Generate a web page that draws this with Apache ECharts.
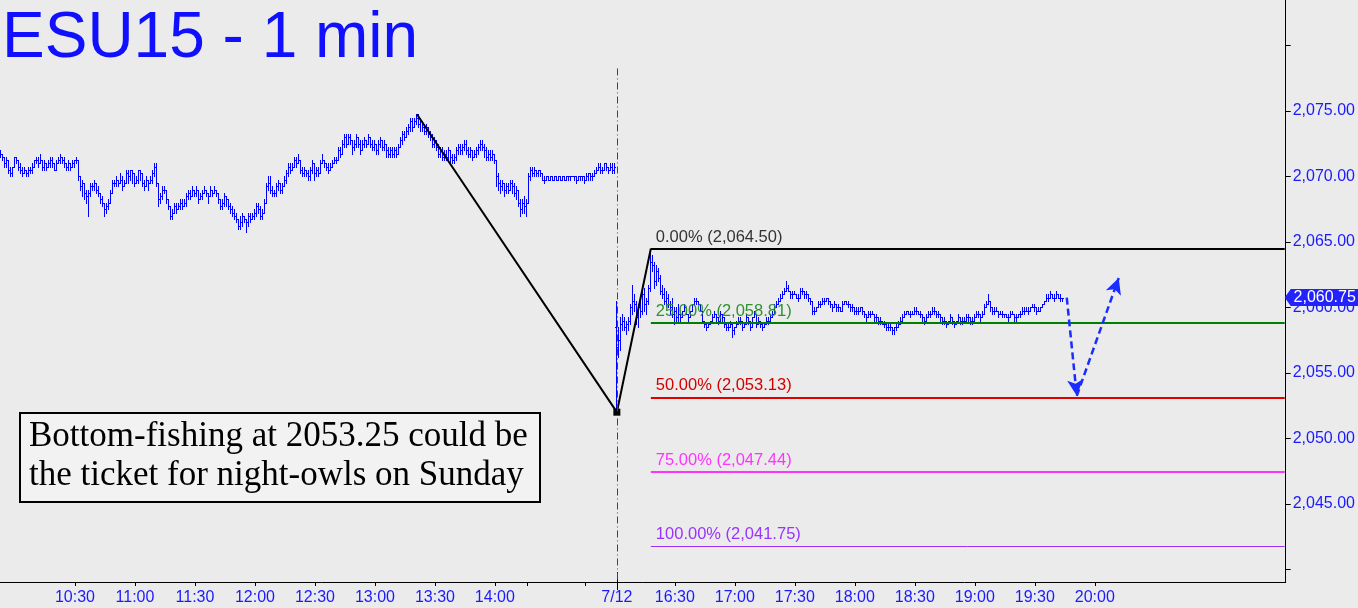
<!DOCTYPE html>
<html><head><meta charset="utf-8">
<script src="https://cdn.jsdelivr.net/npm/echarts@6/dist/echarts.min.js"></script>
<style>html,body{margin:0;padding:0;background:#ebebeb;}#c{width:1358px;height:608px;}</style>
</head><body><div id="c"></div>
<script>
// ---------- data ----------
const fridayHigh = [2072.0,2071.75,2071.5,2071.5,2071.25,2070.75,2070.75,2071.5,2071.5,2071.25,
2071.0,2070.75,2070.75,2070.5,2070.75,2070.75,2071.0,2071.25,2071.5,2071.5,
2071.75,2071.25,2071.25,2071.0,2071.25,2071.5,2071.5,2071.0,2071.25,2071.5,
2071.75,2071.5,2071.5,2071.0,2071.25,2071.0,2071.25,2071.25,2071.5,2071.25,
2070.0,2069.75,2069.5,2069.0,2069.0,2069.5,2069.5,2069.75,2069.5,2069.25,
2068.75,2068.5,2068.0,2068.0,2068.25,2069.0,2069.75,2069.75,2070.0,2069.75,
2070.25,2070.0,2069.75,2070.5,2070.5,2070.5,2070.5,2070.25,2070.0,2070.5,
2070.5,2070.25,2069.75,2070.0,2069.75,2070.0,2070.5,2071.0,2071.0,2069.5,
2068.75,2069.25,2069.25,2069.0,2068.25,2067.75,2067.5,2068.0,2068.0,2068.0,
2068.25,2068.25,2068.25,2068.75,2069.0,2069.0,2069.25,2069.0,2069.25,2069.0,
2068.75,2069.0,2069.25,2069.0,2068.75,2069.25,2069.0,2069.25,2069.0,2068.75,
2068.25,2068.25,2068.75,2068.5,2068.25,2068.0,2067.75,2067.5,2067.25,2066.75,
2067.0,2067.25,2067.0,2066.75,2067.25,2067.25,2067.25,2067.5,2068.0,2068.0,
2067.75,2067.5,2068.25,2069.5,2070.0,2070.0,2069.25,2069.0,2069.5,2069.75,
2069.5,2069.5,2070.0,2070.5,2071.0,2071.0,2071.0,2071.5,2071.5,2071.75,
2071.25,2070.75,2070.75,2070.5,2070.5,2070.75,2071.25,2071.0,2070.75,2070.75,
2071.25,2071.75,2071.25,2071.0,2071.0,2071.0,2071.25,2071.5,2071.5,2072.25,
2072.25,2072.75,2073.25,2073.25,2073.25,2073.25,2072.75,2072.75,2073.25,2073.0,
2072.75,2072.75,2073.0,2072.75,2073.25,2073.0,2072.75,2072.75,2072.5,2072.75,
2073.0,2072.75,2072.75,2072.5,2072.25,2072.25,2072.25,2072.25,2072.25,2072.5,
2073.0,2073.5,2073.5,2073.75,2074.0,2074.5,2074.5,2074.5,2074.75,2074.75,
2074.5,2074.25,2074.0,2074.0,2073.75,2073.5,2073.25,2073.0,2072.75,2072.5,
2072.25,2072.25,2072.0,2072.0,2072.25,2072.0,2071.75,2071.75,2072.25,2072.5,
2072.5,2072.5,2072.75,2072.75,2072.25,2072.25,2072.0,2072.0,2072.25,2072.5,
2072.75,2072.75,2072.5,2072.25,2072.0,2072.0,2072.0,2071.75,2071.25,2070.25,
2069.75,2069.75,2069.5,2069.5,2069.5,2069.75,2069.75,2069.5,2069.25,2069.0,
2068.25,2068.25,2068.5,2068.25,2070.25,2070.75,2070.75,2070.75,2070.5,2070.5,
2070.5,2070.25,2070.0,2070.0,2070.0,2070.0,2070.0,2070.0,2070.0,2070.0,
2070.0,2070.0,2070.0,2070.0,2070.0,2070.0,2070.0,2070.0,2070.0,2070.0,
2070.0,2070.0,2070.0,2070.25,2070.25,2070.25,2070.25,2070.5,2070.75,2071.0,
2071.0,2070.75,2071.0,2071.0,2070.75,2071.0,2071.0,2071.0];
const fridayLow = [2071.5,2071.25,2070.75,2070.75,2070.25,2070.0,2070.0,2070.75,2071.0,2070.5,
2070.25,2070.0,2070.25,2070.0,2070.0,2070.25,2070.25,2070.75,2071.0,2070.75,
2071.0,2070.5,2070.5,2070.5,2070.75,2070.75,2070.75,2070.5,2070.5,2071.0,
2071.0,2071.0,2070.75,2070.5,2070.5,2070.5,2070.75,2070.75,2071.0,2069.75,
2069.0,2068.5,2068.25,2068.0,2067.0,2068.5,2069.0,2069.0,2068.75,2068.5,
2068.0,2067.75,2067.0,2067.25,2067.5,2068.0,2068.75,2069.25,2069.25,2069.25,
2069.5,2069.0,2069.25,2069.5,2069.5,2069.75,2069.5,2069.25,2069.5,2069.5,
2069.75,2069.25,2069.0,2069.25,2069.0,2069.5,2069.5,2070.0,2069.25,2067.75,
2068.0,2068.25,2068.75,2068.0,2067.5,2066.75,2066.75,2067.25,2067.25,2067.5,
2067.5,2067.5,2067.75,2067.75,2068.25,2068.25,2068.5,2068.5,2068.5,2068.0,
2068.25,2068.25,2068.75,2068.5,2068.0,2068.5,2068.5,2068.75,2068.5,2068.0,
2067.5,2067.5,2067.75,2067.75,2067.5,2067.25,2067.0,2066.75,2066.5,2066.0,
2066.0,2066.25,2066.5,2065.75,2066.25,2066.5,2066.75,2066.75,2067.0,2067.25,
2066.75,2066.75,2067.25,2068.0,2069.0,2068.75,2068.5,2068.5,2068.5,2069.0,
2068.75,2068.75,2069.25,2069.5,2070.0,2070.25,2070.5,2070.75,2070.75,2071.0,
2070.25,2070.0,2070.0,2070.0,2069.75,2069.75,2070.25,2069.75,2070.0,2070.0,
2070.25,2071.0,2070.75,2070.5,2070.25,2070.5,2070.75,2071.0,2071.0,2071.25,
2071.5,2071.75,2072.25,2072.25,2072.5,2072.5,2071.75,2072.0,2072.25,2072.25,
2071.75,2072.0,2072.25,2072.25,2072.5,2072.25,2072.0,2072.0,2071.75,2071.75,
2072.25,2072.0,2072.0,2071.5,2071.5,2071.5,2071.5,2071.5,2071.5,2071.75,
2072.25,2072.5,2072.75,2073.0,2073.25,2073.5,2073.5,2073.75,2074.0,2073.75,
2073.5,2073.5,2073.25,2073.25,2073.0,2072.75,2072.25,2072.25,2072.0,2071.5,
2071.5,2071.25,2071.25,2071.25,2071.25,2071.0,2071.0,2071.0,2071.25,2071.75,
2071.75,2071.75,2072.0,2071.75,2071.5,2071.5,2071.25,2071.5,2071.5,2071.75,
2072.0,2072.0,2071.5,2071.25,2071.25,2071.25,2071.25,2071.0,2069.25,2069.0,
2068.75,2069.0,2068.5,2068.75,2068.75,2069.0,2068.75,2068.5,2068.25,2067.75,
2067.0,2067.25,2067.25,2067.0,2068.0,2069.75,2070.0,2070.0,2070.0,2070.0,
2070.0,2069.75,2069.5,2069.75,2069.75,2069.75,2069.75,2069.75,2069.75,2069.75,
2069.75,2069.75,2069.75,2069.75,2069.75,2069.75,2070.0,2069.75,2069.5,2069.75,
2069.75,2069.75,2069.5,2069.75,2069.75,2069.75,2069.75,2070.0,2070.25,2070.5,
2070.25,2070.25,2070.5,2070.5,2070.25,2070.5,2070.25,2070.25];
const fridayClose = [2071.75,2071.5,2071.0,2071.25,2070.5,2070.25,2070.75,2071.5,2071.25,2070.75,
2070.5,2070.25,2070.5,2070.25,2070.5,2070.5,2070.75,2071.25,2071.25,2071.0,
2071.25,2070.75,2071.0,2070.75,2071.0,2071.25,2071.0,2070.5,2071.0,2071.25,
2071.5,2071.25,2071.0,2070.75,2071.0,2070.75,2071.0,2071.25,2071.25,2070.0,
2069.25,2069.5,2068.75,2068.5,2068.75,2069.25,2069.25,2069.5,2069.0,2068.75,
2068.25,2068.0,2067.5,2067.75,2068.0,2068.75,2069.5,2069.5,2069.75,2069.5,
2069.75,2069.25,2069.5,2070.25,2070.0,2070.5,2070.25,2069.5,2069.75,2070.5,
2070.25,2069.5,2069.25,2069.75,2069.5,2069.75,2070.25,2070.75,2069.5,2068.25,
2068.5,2069.0,2069.0,2068.25,2067.75,2067.0,2067.25,2067.75,2067.5,2067.75,
2068.0,2067.75,2068.0,2068.5,2068.75,2068.5,2069.0,2068.75,2069.0,2068.25,
2068.5,2068.75,2069.0,2068.75,2068.5,2069.0,2068.75,2069.0,2068.75,2068.25,
2067.75,2068.0,2068.5,2068.25,2067.75,2067.5,2067.25,2067.0,2066.75,2066.25,
2066.5,2067.0,2066.75,2066.5,2067.0,2066.75,2067.0,2067.25,2067.75,2067.5,
2067.0,2067.25,2068.0,2069.25,2069.5,2069.0,2068.75,2068.75,2069.25,2069.5,
2069.0,2069.25,2069.75,2070.25,2070.75,2070.5,2070.75,2071.25,2071.0,2071.25,
2070.5,2070.25,2070.5,2070.25,2070.0,2070.5,2071.0,2070.25,2070.5,2070.25,
2071.0,2071.25,2071.0,2070.75,2070.5,2070.75,2071.0,2071.25,2071.25,2072.0,
2071.75,2072.5,2073.0,2072.5,2073.0,2072.75,2072.25,2072.5,2073.0,2072.5,
2072.0,2072.5,2072.75,2072.5,2073.0,2072.5,2072.25,2072.5,2072.0,2072.5,
2072.75,2072.25,2072.5,2072.0,2071.75,2072.0,2071.75,2072.0,2071.75,2072.25,
2072.75,2073.25,2073.0,2073.5,2073.75,2074.25,2073.75,2074.25,2074.5,2074.0,
2074.25,2073.75,2073.5,2073.75,2073.25,2073.0,2072.5,2072.75,2072.25,2071.75,
2072.0,2071.5,2071.75,2071.5,2072.0,2071.5,2071.25,2071.5,2072.0,2072.25,
2072.0,2072.25,2072.5,2072.0,2071.75,2072.0,2071.5,2071.75,2072.0,2072.25,
2072.5,2072.25,2072.0,2071.5,2071.75,2071.5,2071.75,2071.25,2070.0,2069.5,
2069.25,2069.5,2069.0,2069.25,2069.0,2069.5,2069.25,2068.75,2069.0,2068.0,
2067.5,2068.0,2067.75,2068.0,2070.0,2070.5,2070.25,2070.5,2070.25,2070.5,
2070.25,2069.75,2069.75,2070.0,2069.75,2070.0,2069.75,2070.0,2069.75,2070.0,
2069.75,2070.0,2069.75,2070.0,2070.0,2070.0,2070.0,2070.0,2069.75,2070.0,
2070.0,2070.0,2069.75,2070.0,2070.25,2070.0,2070.0,2070.25,2070.5,2070.75,
2070.5,2070.5,2071.0,2070.75,2070.5,2070.75,2070.5,2070.75];

const sundayHigh = [2060.5,2058.5,2059.25,2059.5,2059.25,2059.0,2059.25,2060.25,2061.75,2061.0,
2060.5,2060.25,2060.5,2061.75,2061.5,2060.75,2061.75,2064.5,2064.0,2063.5,
2063.25,2063.0,2062.5,2061.75,2061.5,2061.25,2061.0,2060.5,2060.75,2060.0,
2060.0,2060.25,2059.5,2059.75,2060.25,2060.0,2059.5,2059.75,2060.25,2060.75,
2060.75,2060.5,2060.25,2059.75,2059.0,2058.75,2058.75,2059.0,2059.5,2059.75,
2059.5,2059.25,2059.75,2059.5,2059.25,2058.75,2058.75,2059.0,2058.75,2058.5,
2059.0,2059.25,2059.25,2059.0,2058.75,2059.5,2059.25,2059.0,2059.25,2059.75,
2059.5,2059.25,2059.0,2058.75,2058.75,2059.25,2059.25,2059.5,2059.75,2060.25,
2060.5,2060.75,2061.0,2061.25,2061.5,2062.0,2061.75,2061.25,2061.25,2061.25,
2061.0,2061.0,2061.5,2061.5,2061.25,2061.25,2061.0,2060.75,2060.5,2060.0,
2060.0,2060.5,2060.5,2060.75,2060.75,2060.75,2060.75,2060.5,2060.25,2060.5,
2060.25,2060.25,2060.0,2060.5,2060.5,2060.5,2060.5,2060.25,2060.25,2060.0,
2060.0,2060.0,2060.0,2060.0,2059.75,2059.5,2059.75,2059.75,2059.75,2059.5,
2059.5,2059.25,2059.25,2059.0,2059.0,2058.75,2058.75,2058.75,2058.5,2058.5,
2058.75,2059.0,2059.25,2059.5,2059.75,2059.75,2059.75,2059.75,2059.75,2060.0,
2060.0,2059.75,2059.75,2059.5,2059.25,2059.5,2059.75,2059.75,2060.0,2060.0,
2059.75,2059.75,2059.5,2059.25,2059.25,2059.0,2059.0,2059.5,2059.25,2059.0,
2059.0,2059.5,2059.25,2059.25,2059.25,2059.5,2059.5,2059.25,2059.25,2059.5,
2059.75,2059.75,2059.5,2059.75,2060.25,2060.5,2061.0,2060.5,2060.0,2060.0,
2060.0,2059.75,2059.75,2059.75,2059.5,2059.5,2059.5,2059.75,2059.75,2059.5,
2059.5,2059.5,2059.75,2060.0,2060.0,2060.0,2060.0,2060.0,2060.25,2060.25,
2060.0,2060.0,2060.0,2060.25,2060.5,2061.0,2061.0,2061.25,2061.0,2061.0,
2061.25,2061.0,2061.0,2060.75];
const sundayLow = [2052.0,2056.25,2056.75,2058.25,2058.25,2058.0,2058.25,2058.75,2059.5,2059.75,
2058.75,2058.5,2059.25,2059.5,2059.75,2059.5,2060.25,2061.25,2062.75,2061.5,
2061.75,2062.0,2061.0,2060.75,2060.25,2060.0,2060.0,2059.5,2059.25,2058.75,
2059.0,2059.0,2059.0,2059.25,2059.75,2059.5,2059.0,2059.25,2059.75,2060.25,
2060.25,2060.25,2059.75,2059.0,2058.5,2058.25,2058.5,2058.75,2059.0,2059.25,
2059.0,2058.75,2059.0,2059.0,2058.5,2058.25,2058.25,2058.5,2057.75,2058.0,
2058.5,2058.75,2058.75,2058.25,2058.5,2058.75,2058.75,2058.25,2058.5,2059.25,
2058.5,2058.75,2058.5,2058.25,2058.5,2058.75,2058.75,2059.0,2059.25,2059.5,
2060.0,2060.25,2060.5,2060.75,2061.0,2061.25,2061.25,2060.75,2060.75,2061.0,
2060.75,2060.5,2060.75,2061.0,2060.75,2060.75,2060.5,2060.25,2059.5,2059.5,
2059.75,2060.0,2060.0,2060.25,2060.25,2060.5,2060.25,2060.0,2059.75,2060.0,
2059.75,2059.75,2059.75,2059.75,2060.25,2060.25,2060.0,2059.75,2059.75,2059.5,
2059.5,2059.5,2059.75,2059.5,2059.25,2059.0,2059.25,2059.25,2059.5,2059.0,
2059.0,2058.75,2058.75,2058.75,2058.5,2058.25,2058.25,2058.25,2058.0,2058.0,
2058.25,2058.5,2058.75,2059.0,2059.25,2059.5,2059.5,2059.25,2059.5,2059.5,
2059.5,2059.5,2059.25,2059.0,2058.75,2059.0,2059.25,2059.25,2059.5,2059.5,
2059.25,2059.25,2059.0,2058.75,2058.75,2058.5,2058.75,2059.0,2058.75,2058.5,
2058.75,2059.0,2058.75,2058.75,2059.0,2059.0,2059.0,2058.75,2058.75,2059.0,
2059.25,2059.25,2059.0,2059.25,2059.5,2060.0,2060.25,2059.75,2059.5,2059.5,
2059.75,2059.25,2059.5,2059.25,2059.25,2059.25,2059.0,2059.25,2059.5,2059.0,
2059.0,2059.25,2059.25,2059.5,2059.5,2059.75,2059.5,2059.75,2060.0,2059.75,
2059.5,2059.75,2059.75,2060.0,2060.25,2060.5,2060.5,2060.75,2060.75,2060.5,
2060.75,2060.75,2060.5,2060.5];
const sundayClose = [2057.0,2057.5,2058.75,2059.0,2058.5,2058.75,2059.0,2060.0,2060.5,2060.25,
2059.25,2060.0,2059.75,2061.0,2060.25,2060.5,2061.5,2063.5,2063.25,2062.0,
2062.75,2062.25,2061.25,2061.0,2060.5,2060.75,2060.25,2060.0,2059.5,2059.75,
2059.25,2059.5,2059.25,2059.75,2060.0,2059.5,2059.25,2059.75,2060.25,2060.5,
2060.5,2060.25,2059.75,2059.0,2058.75,2058.5,2058.75,2059.0,2059.25,2059.5,
2059.25,2059.0,2059.5,2059.25,2058.75,2058.5,2058.5,2058.75,2058.25,2058.5,
2058.75,2059.0,2059.0,2058.5,2058.75,2059.25,2059.0,2058.5,2059.25,2059.5,
2058.75,2059.0,2058.75,2058.5,2058.75,2059.0,2059.0,2059.25,2059.5,2060.0,
2060.25,2060.5,2060.75,2061.0,2061.25,2061.5,2061.25,2061.0,2061.0,2061.0,
2060.75,2060.75,2061.25,2061.25,2061.0,2061.0,2060.75,2060.5,2059.75,2059.75,
2060.0,2060.25,2060.25,2060.5,2060.5,2060.75,2060.5,2060.25,2060.0,2060.25,
2060.0,2060.0,2059.75,2060.25,2060.5,2060.25,2060.25,2060.0,2060.0,2059.75,
2059.75,2059.75,2060.0,2059.75,2059.5,2059.25,2059.5,2059.5,2059.5,2059.25,
2059.25,2059.0,2059.0,2058.75,2058.75,2058.5,2058.5,2058.5,2058.25,2058.5,
2058.5,2058.75,2059.0,2059.25,2059.5,2059.75,2059.5,2059.5,2059.5,2059.75,
2059.75,2059.5,2059.5,2059.25,2059.0,2059.25,2059.5,2059.5,2059.75,2059.75,
2059.5,2059.5,2059.25,2059.0,2059.0,2058.75,2059.0,2059.25,2059.0,2058.75,
2059.0,2059.25,2059.0,2059.0,2059.0,2059.25,2059.25,2059.0,2059.0,2059.25,
2059.5,2059.5,2059.25,2059.5,2060.0,2060.25,2060.5,2060.0,2059.75,2059.75,
2059.75,2059.5,2059.5,2059.5,2059.5,2059.25,2059.25,2059.5,2059.5,2059.25,
2059.25,2059.5,2059.5,2059.75,2059.75,2059.75,2059.75,2060.0,2060.0,2060.0,
2059.75,2059.75,2060.0,2060.25,2060.5,2060.75,2060.75,2061.0,2060.75,2060.75,
2061.0,2060.75,2060.75,2060.75];
const sessionOpen = [2071.75, 2058.5];

// time axis labels (bar index -> label)
const xTickIndex = [37,67,97,127,157,187,217,247,263,292,308,337,367,397,427,457,487,517,547];
const xTickLabel = ['10:30','11:00','11:30','12:00','12:30','13:00','13:30','14:00','','','7/12','16:30','17:00','17:30','18:00','18:30','19:00','19:30','20:00'];
const barSlots = 643;

// price axis
const yLabelValues = [2045,2050,2055,2060,2065,2070,2075];
const yTickValues = [2040,2045,2050,2055,2060,2065,2070,2075,2080];

// Fibonacci projection
const fibPct = ['0.00%','25.00%','50.00%','75.00%','100.00%'];
const fibValues = [2064.50,2058.81,2053.13,2047.44,2041.75];
// zig-zag swing points [barIndex, price]
const swingPoints = [[208,2074.75],[308,2052.00],[325,2064.50]];
// projected path [barIndex, price]
const projection = [[533,2060.75],[538,2053.25],[559,2062.25]];
const lastPrice = 2060.75;

// ---------- build ----------
const sundayStart = fridayHigh.length;
const highs = fridayHigh.concat(sundayHigh);
const lows = fridayLow.concat(sundayLow);
const closes = fridayClose.concat(sundayClose);
const ohlc = closes.map((c, i) => {
  const o = i === 0 ? sessionOpen[0] : (i === sundayStart ? sessionOpen[1] : closes[i - 1]);
  return [i, o, highs[i], lows[i], c];
});
const categories = [];
for (let i = 0; i < barSlots; i++) categories.push(String(i));
const labelMap = new Map();
xTickIndex.forEach((ix, k) => labelMap.set(ix, xTickLabel[k]));
const labelSet = new Set(xTickIndex.filter((ix, k) => xTickLabel[k] !== ''));
const tickSet = new Set(xTickIndex);

const fmt = v => v.toLocaleString('en-US', {minimumFractionDigits: 2, maximumFractionDigits: 2});
const BLUE = '#0000ff';
const SANS = '"Liberation Sans", Arial, sans-serif';
const fibColors = ['#000000', '#008000', '#e00000', '#ff33ff', '#a030f0'];
const fibTextColors = ['#333333', '#2f922f', '#d40000', '#ff33ff', '#9933ff'];
const fibWidths = [2, 2, 2, 2, 1];

function renderBar(params, api) {
  const i = api.value(0), o = api.value(1), h = api.value(2), l = api.value(3), c = api.value(4);
  const pH = api.coord([i, h]), pL = api.coord([i, l]), pO = api.coord([i, o]), pC = api.coord([i, c]);
  const x = Math.floor(pH[0]);
  const yTop = Math.round(Math.min(pH[1], pO[1], pC[1]));
  const yBot = Math.round(Math.max(pL[1], pO[1], pC[1]));
  const st = {fill: BLUE};
  return {type: 'group', children: [
    {type: 'rect', shape: {x: x, y: yTop, width: 1, height: Math.max(1, yBot - yTop + 1)}, style: st},
    {type: 'rect', shape: {x: x - 1, y: Math.round(pO[1]), width: 1, height: 1}, style: st},
    {type: 'rect', shape: {x: x + 1, y: Math.round(pC[1]), width: 1, height: 1}, style: st}
  ]};
}

const chart = echarts.init(document.getElementById('c'), null, {renderer: 'canvas'});
const yMin = 2039.03, yMax = 2083.48;
chart.setOption({
  animation: false,
  backgroundColor: '#ebebeb',
  grid: {left: 0, right: 72, top: 0, bottom: 26, containLabel: false},
  xAxis: [{
    type: 'category', data: categories, boundaryGap: true,
    axisLine: {show: true, lineStyle: {color: '#000', width: 1}},
    axisTick: {show: true, alignWithLabel: true, length: 4, interval: (idx) => tickSet.has(idx), lineStyle: {color: '#000'}},
    axisLabel: {show: true, interval: (idx) => labelSet.has(idx), formatter: (v) => labelMap.get(+v) || '',
      color: '#1a1aff', fontSize: 16, fontFamily: SANS, margin: 8},
    splitLine: {show: false}
  }, {
    type: 'category', data: categories, boundaryGap: true, position: 'bottom',
    axisLine: {show: false}, axisLabel: {show: false}, splitLine: {show: false},
    axisTick: {show: true, alignWithLabel: true, length: 10, inside: true, interval: (idx) => idx === 308, lineStyle: {color: '#000'}}
  }, {
    type: 'category', data: categories, boundaryGap: true, position: 'bottom',
    axisLine: {show: false}, axisLabel: {show: false}, splitLine: {show: false},
    axisTick: {show: true, alignWithLabel: true, length: 8, inside: false, interval: (idx) => idx === 308, lineStyle: {color: '#000'}}
  }],
  yAxis: {
    type: 'value', position: 'right', min: yMin, max: yMax, scale: true,
    axisLine: {show: true, lineStyle: {color: '#000', width: 1}},
    axisTick: {show: true, length: 5, customValues: yTickValues, lineStyle: {color: '#000'}},
    axisLabel: {show: true, customValues: yLabelValues, formatter: (v) => fmt(v), color: '#1a1aff', fontSize: 16, fontFamily: SANS, margin: 7},
    splitLine: {show: false}
  },
  series: [{
    type: 'custom', name: 'ESU15', renderItem: renderBar, data: ohlc,
    encode: {x: 0, y: [1, 2, 3, 4]}, clip: false, z: 3
  }, {
    type: 'line', name: 'fib', data: [], clip: false, z: 2,
    markLine: {
      silent: true, symbol: 'none', animation: false,
      data: fibValues.map((v, k) => [
        {coord: [swingPoints[2][0], v], lineStyle: {color: fibColors[k], width: fibWidths[k], type: 'solid'},
         label: {show: true, position: 'insideStartTop', distance: [5, 3], formatter: fibPct[k] + ' (' + fmt(v) + ')',
           color: fibTextColors[k], fontSize: 16.5, fontFamily: SANS}},
        {coord: [barSlots - 1, v]}
      ])
    }
  }, {
    type: 'line', name: 'swing', data: swingPoints, clip: false, z: 4,
    lineStyle: {color: '#000', width: 2}, itemStyle: {color: '#000'},
    symbol: 'rect', symbolSize: 7, showSymbol: true,
    markLine: {
      silent: true, animation: false, symbol: 'none',
      data: [
        [{coord: [308, 2078.25], lineStyle: {color: '#444', width: 1, type: [7, 3, 1, 3]}}, {coord: [308, yMin]}],
        [{coord: projection[0], symbol: 'none', lineStyle: {color: '#1a2cff', width: 2.5, type: [7, 4]}},
         {coord: projection[1], symbol: 'arrow', symbolSize: [12, 16]}],
        [{coord: projection[1], symbol: 'none', lineStyle: {color: '#1a2cff', width: 2.5, type: [7, 4]}},
         {coord: projection[2], symbol: 'arrow', symbolSize: [12, 16]}]
      ],
      label: {show: false}
    },
    markPoint: {
      silent: true, animation: false, z: 10,
      data: [{
        coord: [barSlots - 1, lastPrice],
        symbol: 'path://M0,8 L6,0 L76,0 L76,16 L6,16 Z', symbolSize: [76, 17], symbolKeepAspect: false,
        symbolOffset: [38, 0],
        itemStyle: {color: '#2222ff'},
        label: {show: true, position: 'inside', offset: [2, 0], formatter: fmt(lastPrice), color: '#ffffff', fontSize: 16, fontFamily: SANS}
      }]
    }
  }],
  graphic: [
    {type: 'text', x: 2, y: 39, z: 20, style: {text: 'ESU15 - 1 min', font: '64px "Liberation Sans", Arial, sans-serif', fill: '#1010ff', verticalAlign: 'middle'}},
    {type: 'rect', z: 20, shape: {x: 20, y: 413, width: 520, height: 89}, style: {fill: '#f2f2f2', stroke: '#000', lineWidth: 2}},
    {type: 'text', x: 29, y: 437, z: 21, style: {text: 'Bottom-fishing at 2053.25 could be', font: '35px "Liberation Serif", "Times New Roman", serif', fill: '#000', verticalAlign: 'middle'}},
    {type: 'text', x: 29, y: 476, z: 21, style: {text: 'the ticket for night-owls on Sunday', font: '35px "Liberation Serif", "Times New Roman", serif', fill: '#000', verticalAlign: 'middle'}}
  ]
});
</script></body></html>
